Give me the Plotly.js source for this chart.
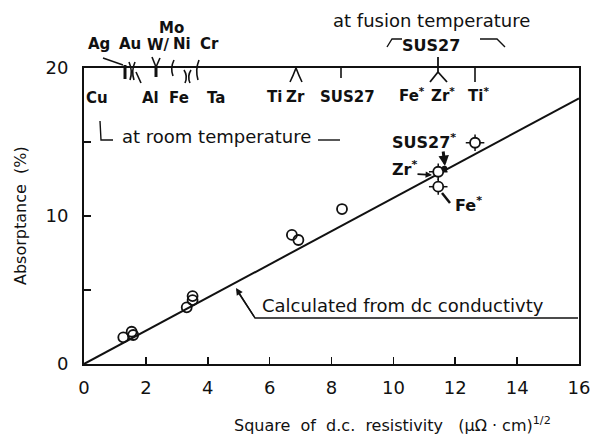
<!DOCTYPE html>
<html>
<head>
<meta charset="utf-8">
<script src="https://cdn.plot.ly/plotly-3.0.1.min.js"></script>
<style>html,body{margin:0;padding:0;background:#fff;}#chart{width:608px;height:439px;}</style>
</head>
<body>
<div id="chart"></div>
<script>
// ---- data ----
const roomX = [1.27, 1.54, 1.59, 3.32, 3.51, 3.51, 6.72, 6.93, 8.34];
const roomY = [1.80, 2.18, 1.96, 3.83, 4.32, 4.59, 8.72, 8.38, 10.47];
const fusionNames = ['Ti*', 'Zr*', 'Fe*'];
const fusionX = [12.64, 11.45, 11.45];
const fusionY = [14.95, 12.99, 11.98];
const fusionErrX = [0.3, 0.3, 0.3];
const fusionErrY = [0.55, 0.55, 0.55];
const sus27StarX = [11.65];
const sus27StarY = [13.2];
const calcX = [0, 16];
const calcY = [0, 17.95];
const xTickVals = [0, 2, 4, 6, 8, 10, 12, 14, 16];
const yTickVals = [0, 5, 10, 15, 20];
const yTickText = ['0', '', '10', '', '20'];

// ---- layout helpers (pixel -> paper) ----
const L = 84, R = 579, T = 68, B = 364;
const W = 608, H = 439;
const px = v => (v - L) / (R - L);
const py = v => (B - v) / (B - T);
const FONT = 'DejaVu Sans, Arial, sans-serif';
const INK = '#111';

function txt(text, x, y, size, bold, extra) {
  return Object.assign({
    text: bold ? '<b>' + text + '</b>' : text,
    x: px(x), y: py(y), xref: 'paper', yref: 'paper',
    showarrow: false, xanchor: 'center', yanchor: 'middle',
    font: {family: FONT, size: size, color: INK}
  }, extra || {});
}
function pth(points, width) {
  const d = points.map((p, i) => (i === 0 ? 'M' : 'L') + px(p[0]) + ',' + py(p[1])).join(' ');
  return {type: 'path', xref: 'paper', yref: 'paper', path: d,
          line: {color: INK, width: width || 1.6}};
}
function seg(x0, y0, x1, y1, w) {
  return {type: 'line', xref: 'paper', yref: 'paper',
          x0: px(x0), y0: py(y0), x1: px(x1), y1: py(y1),
          line: {color: INK, width: w || 1.6}};
}
function curve(x0, y0, cx, cy, x1, y1, w) {
  return {type: 'path', xref: 'paper', yref: 'paper',
          path: 'M' + px(x0) + ',' + py(y0) + ' Q' + px(cx) + ',' + py(cy) + ' ' + px(x1) + ',' + py(y1),
          line: {color: INK, width: w || 1.6}};
}

const traces = [
  {x: calcX, y: calcY, mode: 'lines', line: {color: INK, width: 2}, hoverinfo: 'skip', cliponaxis: false},
  {x: roomX, y: roomY, mode: 'markers',
   marker: {symbol: 'circle-open', size: 10, color: INK, line: {width: 1.8, color: INK}}},
  {x: fusionX, y: fusionY, mode: 'markers', text: fusionNames,
   error_x: {type: 'data', array: fusionErrX, visible: true, width: 0, thickness: 1.5, color: INK},
   error_y: {type: 'data', array: fusionErrY, visible: true, width: 0, thickness: 1.5, color: INK},
   marker: {symbol: 'circle', size: 10, color: '#fff', line: {width: 1.8, color: INK}}},
  {x: sus27StarX, y: sus27StarY, mode: 'markers',
   marker: {symbol: 'circle', size: 6, color: INK}}
];

const shapes = [
  // Ag leader and marks near top border
  seg(103, 58, 123, 65, 1.4),
  seg(125, 65, 125, 79, 3),
  curve(129, 62, 133, 71, 130, 80, 1.6),
  curve(135, 62, 131, 71, 134, 80, 1.6),
  seg(136, 72, 141, 83, 1.6),
  // W / Mo mark
  seg(152, 57, 156, 67, 1.6),
  seg(160, 58, 156, 67, 1.6),
  seg(156, 66, 156, 77, 3),
  // Ni
  curve(174, 60, 170, 68, 173, 76, 1.6),
  // Fe pair
  curve(184, 70, 188, 76, 185, 83, 1.6),
  curve(191, 70, 187, 76, 190, 83, 1.6),
  // Cr / Ta
  curve(199, 60, 195, 70, 198, 80, 1.6),
  // Ti / Zr
  curve(296, 68, 293, 76, 290, 82, 1.6),
  curve(296, 68, 299, 76, 302, 82, 1.6),
  // SUS27
  seg(341, 68, 341, 78, 1.6),
  // fusion SUS27 / Fe* / Zr*
  seg(438, 57, 438, 72, 1.8),
  seg(438, 72, 430, 82, 1.8),
  seg(438, 72, 447, 82, 1.8),
  // Ti*
  seg(475, 68, 475, 82, 1.6),
  // room temperature bracket
  pth([[100, 121], [101, 140], [113, 140]], 1.4),
  seg(318, 140, 340, 140, 1.4),
  // fusion temperature bracket
  pth([[387, 47], [392, 39], [402, 39]], 1.4),
  pth([[480, 39], [497, 39], [505, 47]], 1.4),
  // calculated leader
  pth([[578, 318], [255, 318], [238, 292]], 1.4),
  // Fe* leader
  seg(442, 193, 450, 203, 2.5)
];

const annotations = [
  txt('Mo', 171, 28, 15, true),
  txt('Ag', 99, 44, 15, true),
  txt('Au', 130, 44, 15, true),
  txt('W/', 158, 45, 15, true),
  txt('Ni', 182, 44, 15, true),
  txt('Cr', 209, 44, 15, true),
  txt('Cu', 97, 98, 15, true),
  txt('Al', 150, 98, 15, true),
  txt('Fe', 179, 98, 15, true),
  txt('Ta', 216, 98, 15, true),
  txt('Ti', 274, 97, 15, true),
  txt('Zr', 295, 97, 15, true),
  txt('SUS27', 347, 97, 15, true),
  txt('Fe<sup>*</sup>', 412, 95, 15, true),
  txt('Zr<sup>*</sup>', 443, 95, 15, true),
  txt('Ti<sup>*</sup>', 478, 95, 15, true),
  txt('at room temperature', 216, 136, 18, false),
  txt('at fusion temperature', 431, 20, 18, false),
  txt('SUS27', 431, 46, 16, true),
  txt('SUS27<sup>*</sup>', 424, 141, 16, true),
  txt('Zr<sup>*</sup>', 405, 168, 16, true),
  txt('Fe<sup>*</sup>', 468, 204, 16, true),
  txt('Calculated from dc conductivty', 403, 305, 18, false),
  txt('Absorptance  (%)', 20, 216, 16, false, {textangle: -90}),
  txt('Square  of  d.c.  resistivity   (μΩ · cm)<sup>1/2</sup>', 392, 424, 16, false),
  // arrows
  {x: px(236), y: py(288), xref: 'paper', yref: 'paper', text: '', showarrow: true,
   ax: 19, ay: 30, arrowhead: 2, arrowsize: 1, arrowwidth: 1.4, arrowcolor: INK},
  {x: px(432), y: py(175), xref: 'paper', yref: 'paper', text: '', showarrow: true,
   ax: -16, ay: -1, arrowhead: 2, arrowsize: 0.8, arrowwidth: 1.6, arrowcolor: INK},
  {x: px(445), y: py(166), xref: 'paper', yref: 'paper', text: '', showarrow: true,
   ax: -2, ay: -16, arrowhead: 2, arrowsize: 0.7, arrowwidth: 3, arrowcolor: INK}
];

const axisCommon = {
  showline: true, mirror: true, linecolor: INK, linewidth: 2,
  ticks: 'inside', ticklen: 7, tickwidth: 1.6, tickcolor: INK,
  showgrid: false, zeroline: false, fixedrange: true,
  tickfont: {family: FONT, size: 18, color: INK}
};

const layout = {
  width: W, height: H,
  margin: {l: L, r: W - R, t: T, b: H - B},
  paper_bgcolor: '#fff', plot_bgcolor: '#fff',
  showlegend: false,
  xaxis: Object.assign({}, axisCommon, {range: [0, 16], tickvals: xTickVals, ticklabelstandoff: 6}),
  yaxis: Object.assign({}, axisCommon, {range: [0, 20], tickvals: yTickVals, ticktext: yTickText, ticklabelstandoff: 10}),
  shapes: shapes,
  annotations: annotations
};

Plotly.newPlot('chart', traces, layout, {displayModeBar: false, staticPlot: true});
</script>
</body>
</html>
